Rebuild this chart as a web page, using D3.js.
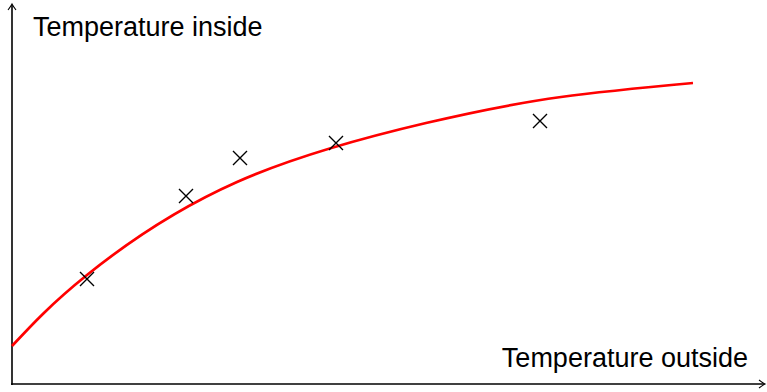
<!DOCTYPE html>
<html>
<head>
<meta charset="utf-8">
<script src="https://cdn.jsdelivr.net/npm/d3@7"></script>
<style>
  html, body { margin: 0; padding: 0; background: #fff; }
  svg { display: block; font-family: "Liberation Sans", Arial, Helvetica, sans-serif; }
</style>
</head>
<body>
<svg id="chart"></svg>
<script>
// fitted curve (outside temp -> inside temp)
const curveX = [0, 2.5, 7.5, 13.8, 18.3, 22.7]
const curveY = [1.9, 5.45, 10.1, 13.05, 14.35, 15.05]

// measured points
const pointX = [2.5, 5.8, 7.6, 10.8, 17.6]
const pointY = [5.25, 9.4, 11.3, 12.05, 13.15]

const xLabel = "Temperature outside"
const yLabel = "Temperature inside"

const svgWidth = 767
const svgHeight = 392
const margin = { left: 12, right: 5, top: 4, bottom: 8 }

const svg = d3.select("#chart")
    .attr("width", svgWidth)
    .attr("height", svgHeight)

const xScale = d3.scaleLinear()
    .domain([0, 25])
    .range([margin.left, margin.left + 750])

const yScale = d3.scaleLinear()
    .domain([0, 19])
    .range([svgHeight - margin.bottom, margin.top])

const x0 = xScale(0)
const y0 = yScale(0)

// axes with arrow heads
const axes = svg.append("g")
    .attr("stroke", "#000")
    .attr("stroke-width", 1.6)
    .attr("fill", "none")

axes.append("line")
    .attr("x1", x0).attr("y1", y0 + 1)
    .attr("x2", x0).attr("y2", margin.top + 1)
axes.append("line")
    .attr("x1", x0 - 1).attr("y1", y0)
    .attr("x2", svgWidth - 3).attr("y2", y0)

const topTip = margin.top
axes.append("path")
    .attr("stroke-width", 1.1)
    .attr("d", `M${x0 - 4},${topTip + 6} Q${x0 - 1},${topTip + 2} ${x0},${topTip} Q${x0 + 1},${topTip + 2} ${x0 + 4},${topTip + 6}`)
const rightTip = svgWidth - 2
axes.append("path")
    .attr("stroke-width", 1.1)
    .attr("d", `M${rightTip - 6},${y0 - 4} Q${rightTip - 2},${y0 - 1} ${rightTip},${y0} Q${rightTip - 2},${y0 + 1} ${rightTip - 6},${y0 + 4}`)

// red curve
const curveData = curveX.map((x, i) => ({ x, y: curveY[i] }))
const line = d3.line()
    .x(d => xScale(d.x))
    .y(d => yScale(d.y))
    .curve(d3.curveNatural)

svg.append("path")
    .datum(curveData)
    .attr("d", line)
    .attr("fill", "none")
    .attr("stroke", "#ff0000")
    .attr("stroke-width", 2.7)

// cross markers
const pointData = pointX.map((x, i) => ({ x, y: pointY[i] }))
const s = 7
svg.append("g")
    .selectAll("path")
    .data(pointData)
    .enter().append("path")
    .attr("d", d => {
        const cx = xScale(d.x), cy = yScale(d.y)
        return `M${cx - s},${cy - s}L${cx + s},${cy + s}M${cx - s},${cy + s}L${cx + s},${cy - s}`
    })
    .attr("stroke", "#000")
    .attr("stroke-width", 1.4)
    .attr("fill", "none")

// axis labels
svg.append("text")
    .attr("x", 33)
    .attr("y", 36)
    .attr("font-size", 27)
    .attr("fill", "#000")
    .text(yLabel)

svg.append("text")
    .attr("x", 748)
    .attr("y", 367)
    .attr("text-anchor", "end")
    .attr("font-size", 27)
    .attr("fill", "#000")
    .text(xLabel)
</script>
</body>
</html>
